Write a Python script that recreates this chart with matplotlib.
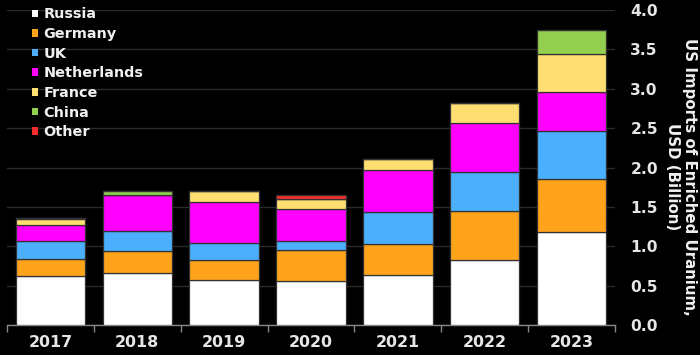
import matplotlib
matplotlib.use("Agg")
import matplotlib.pyplot as plt
import numpy as np
from matplotlib.patches import Patch

years = ["2017", "2018", "2019", "2020", "2021", "2022", "2023"]
series_names = ["Russia", "Germany", "UK", "Netherlands", "France", "China", "Other"]
russia = [0.626, 0.656, 0.571, 0.555, 0.631, 0.821, 1.177]
germany = [0.216, 0.284, 0.250, 0.393, 0.402, 0.623, 0.673]
uk = [0.225, 0.254, 0.216, 0.123, 0.398, 0.503, 0.613]
netherlands = [0.199, 0.457, 0.521, 0.398, 0.533, 0.614, 0.500]
france = [0.076, 0.000, 0.140, 0.131, 0.140, 0.254, 0.478]
china = [0.017, 0.050, 0.000, 0.000, 0.000, 0.000, 0.309]
other = [0.000, 0.000, 0.000, 0.051, 0.000, 0.000, 0.000]
yticks = [0.0, 0.5, 1.0, 1.5, 2.0, 2.5, 3.0, 3.5, 4.0]
ylabel = "US Imports of Enriched Uranium,\nUSD (Billion)"

colors = ["#ffffff", "#ffa31a", "#4baffe", "#ff00ff", "#ffdf72", "#94d050", "#f52d2d"]
data = [russia, germany, uk, netherlands, france, china, other]

plt.rcParams['font.family'] = ['DejaVu Sans']
W, H = 700, 355
fig = plt.figure(figsize=(7, 3.55), dpi=100, facecolor="black")
ax = fig.add_axes([7 / W, 1 - 325 / H, 608 / W, 315 / H], facecolor="black")

x = np.arange(len(years))
bottom = np.zeros(len(years))
for name, vals, c in zip(series_names, data, colors):
    v = np.array(vals)
    ax.bar(x, v, bottom=bottom, width=0.8, color=c, edgecolor="#333333",
           linewidth=0.9, zorder=3, label=name)
    bottom += v

ax.set_xlim(-0.5, len(years) - 0.5)
ax.set_ylim(0, 4.0)
ax.set_yticks(yticks)
ax.set_yticklabels([f"{t:.1f}" for t in yticks])
ax.yaxis.tick_right()
ax.tick_params(axis="y", length=0, pad=11, labelsize=11.2, labelcolor="#e6e6e6")
for lab in ax.get_yticklabels():
    lab.set_fontweight("bold")

fig.text(681 / W, 1 - 176.5 / H, ylabel, rotation=-90, color="#f0f0f0",
         fontsize=10.8, fontweight="bold", ha="center", va="center",
         multialignment="center", linespacing=1.2)

ax.set_xticks(x)
ax.set_xticklabels(years)
ax.set_xticks(np.arange(-0.5, len(years), 1.0), minor=True)
ax.tick_params(axis="x", which="major", length=0, pad=7, labelsize=11.4, labelcolor="#e6e6e6")
ax.tick_params(axis="x", which="minor", length=5, color="#888888", width=1)
for lab in ax.get_xticklabels():
    lab.set_fontweight("bold")

ax.grid(axis="y", color="#2a2a2a", linewidth=1, zorder=0)
for s in ["top", "left", "right"]:
    ax.spines[s].set_visible(False)
ax.spines["bottom"].set_color("#888888")
ax.spines["bottom"].set_linewidth(1)

handles = [Patch(facecolor=c, edgecolor="none") for c in colors]
leg = fig.legend(handles, series_names, loc="upper left",
                 bbox_to_anchor=(32 / W, 1 - 7.5 / H), bbox_transform=fig.transFigure,
                 frameon=False, borderpad=0, borderaxespad=0,
                 handlelength=0.43, handleheight=0.43, handletextpad=0.36,
                 labelspacing=0.39, prop={"weight": "bold", "size": 10.4})
for t in leg.get_texts():
    t.set_color("#f0f0f0")

fig.savefig("out.png", dpi=100, facecolor="black")
